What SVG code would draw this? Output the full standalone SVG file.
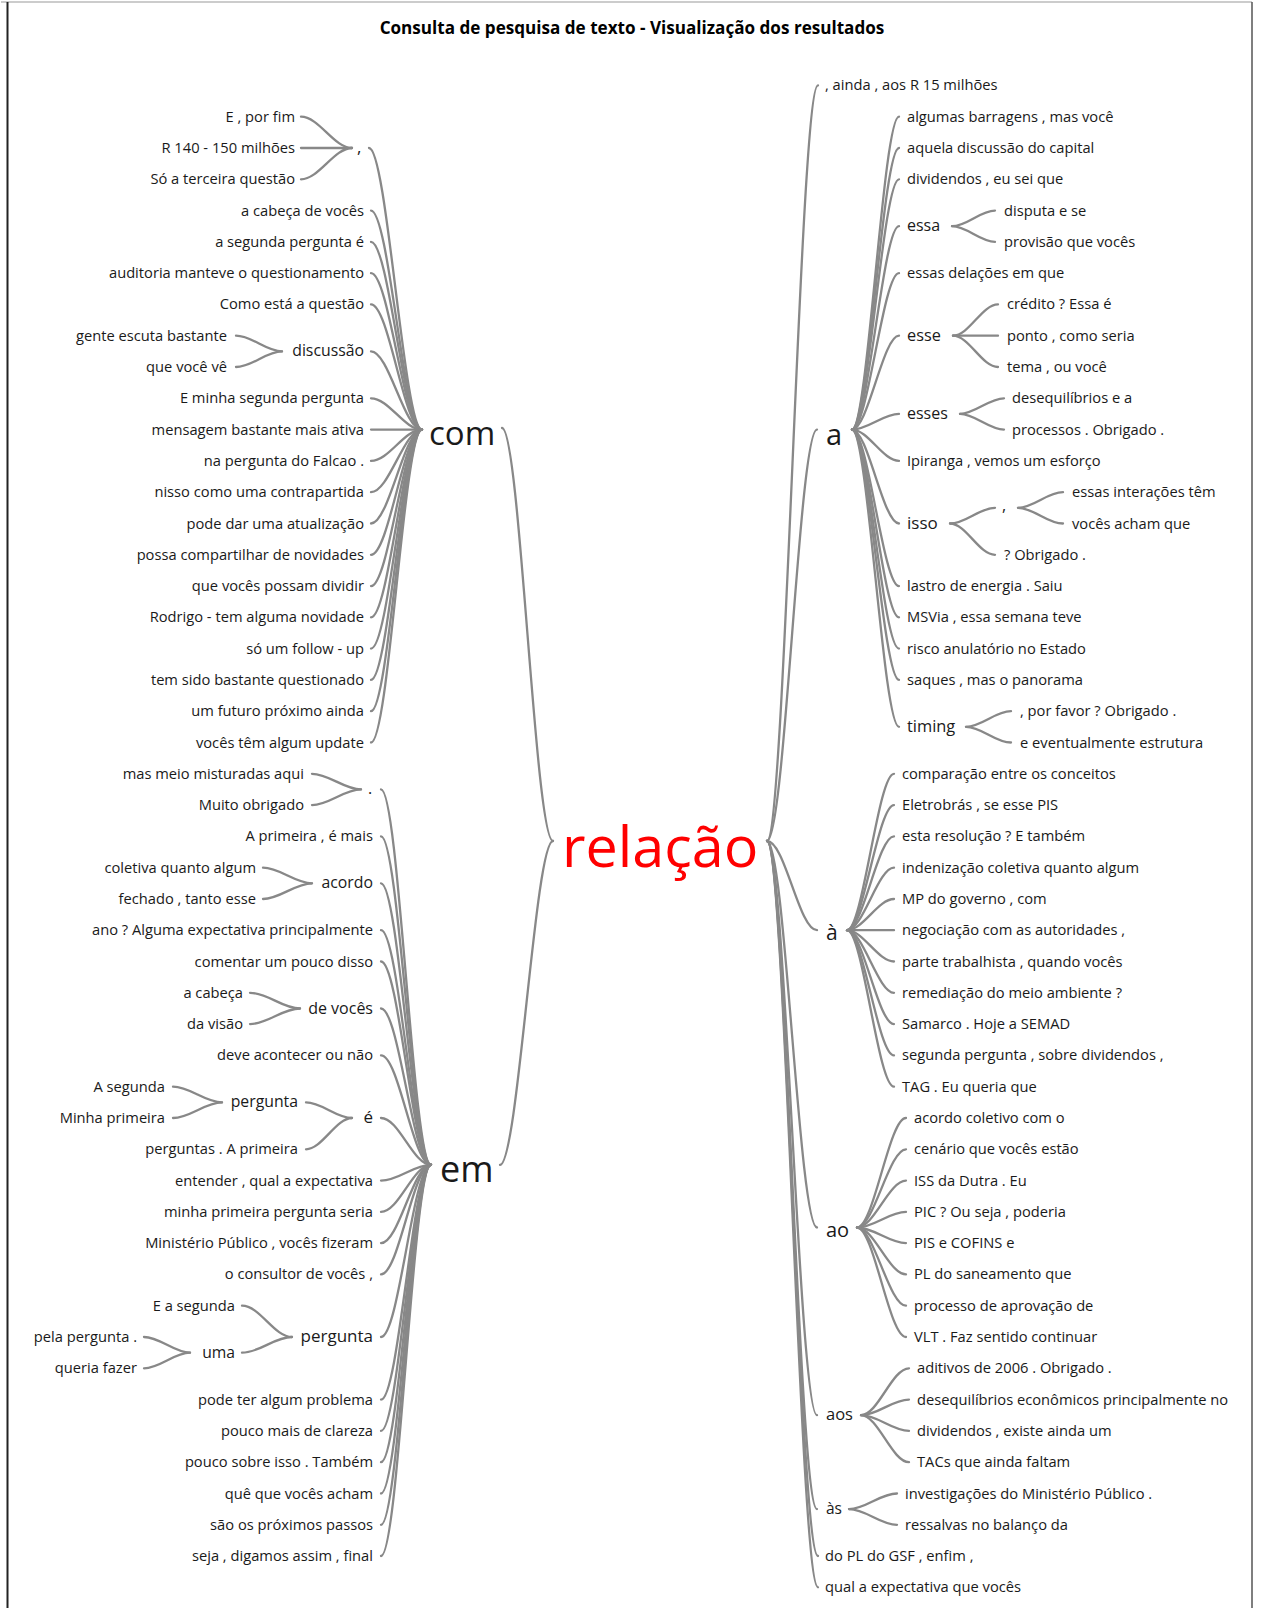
<svg xmlns="http://www.w3.org/2000/svg" width="1263" height="1608" viewBox="0 0 1263 1608">
<style>
  text { font-family: "Open Sans", "Noto Sans", sans-serif; fill: #1a1a1a; }
  .lf { font-size: 14.7px; }
  .e { text-anchor: end; }
  .title { font-size: 17.1px; font-weight: bold; text-anchor: middle; fill: #000; }
  .root { font-size: 57.5px; fill: #ff0000; }
  #connectors path { fill: none; stroke: #888888; stroke-width: 2.3; stroke-linecap: round; }
</style>
<rect x="0" y="0" width="1263" height="1608" fill="#ffffff"/>
<!-- frame -->
<line x1="1" y1="2" x2="1252" y2="2" stroke="#9a9a9a" stroke-width="1.2"/>
<line x1="7.5" y1="2" x2="7.5" y2="1608" stroke="#222" stroke-width="2"/>
<line x1="1252" y1="2" x2="1252" y2="1608" stroke="#555" stroke-width="1.5"/>
<text class="title" x="632" y="34">Consulta de pesquisa de texto - Visualização dos resultados</text>

<g id="connectors">
  <!-- root to com / em -->
  <path d="M502 428 C520 428 535 841 553 841"/>
  <path d="M500 1164.9 C518 1164.9 535 841 553 841"/>
  <!-- com -->
  <path d="M369 148 C387 148 404 429.6 422 429.6"/>
  <path d="M371 210.6 C389 210.6 404 429.6 422 429.6"/>
  <path d="M371 241.9 C389 241.9 404 429.6 422 429.6"/>
  <path d="M371 273.2 C389 273.2 404 429.6 422 429.6"/>
  <path d="M371 304.4 C389 304.4 404 429.6 422 429.6"/>
  <path d="M371 351.4 C389 351.4 404 429.6 422 429.6"/>
  <path d="M371 398.3 C389 398.3 404 429.6 422 429.6"/>
  <path d="M371 429.6 C389 429.6 404 429.6 422 429.6"/>
  <path d="M371 460.9 C389 460.9 404 429.6 422 429.6"/>
  <path d="M371 492.2 C389 492.2 404 429.6 422 429.6"/>
  <path d="M371 523.5 C389 523.5 404 429.6 422 429.6"/>
  <path d="M371 554.8 C389 554.8 404 429.6 422 429.6"/>
  <path d="M371 586.1 C389 586.1 404 429.6 422 429.6"/>
  <path d="M371 617.3 C389 617.3 404 429.6 422 429.6"/>
  <path d="M371 648.6 C389 648.6 404 429.6 422 429.6"/>
  <path d="M371 679.9 C389 679.9 404 429.6 422 429.6"/>
  <path d="M371 711.2 C389 711.2 404 429.6 422 429.6"/>
  <path d="M371 742.5 C389 742.5 404 429.6 422 429.6"/>
  <!-- com / , -->
  <path d="M301 116.7 C319 116.7 334 148 352 148"/>
  <path d="M301 148 C319 148 334 148 352 148"/>
  <path d="M301 179.3 C319 179.3 334 148 352 148"/>
  <!-- com / discussão -->
  <path d="M236 335.7 C252 335.7 266 351.4 282 351.4"/>
  <path d="M236 367 C252 367 266 351.4 282 351.4"/>
  <!-- em -->
  <path d="M381 789.4 C399 789.4 413 1164.9 431 1164.9"/>
  <path d="M381 836.4 C399 836.4 413 1164.9 431 1164.9"/>
  <path d="M381 883.3 C399 883.3 413 1164.9 431 1164.9"/>
  <path d="M381 930.2 C399 930.2 413 1164.9 431 1164.9"/>
  <path d="M381 961.5 C399 961.5 413 1164.9 431 1164.9"/>
  <path d="M381 1008.5 C399 1008.5 413 1164.9 431 1164.9"/>
  <path d="M381 1055.4 C399 1055.4 413 1164.9 431 1164.9"/>
  <path d="M381 1118 C399 1118 413 1164.9 431 1164.9"/>
  <path d="M381 1180.6 C399 1180.6 413 1164.9 431 1164.9"/>
  <path d="M381 1211.9 C399 1211.9 413 1164.9 431 1164.9"/>
  <path d="M381 1243.1 C399 1243.1 413 1164.9 431 1164.9"/>
  <path d="M381 1274.4 C399 1274.4 413 1164.9 431 1164.9"/>
  <path d="M381 1337 C399 1337 413 1164.9 431 1164.9"/>
  <path d="M381 1399.6 C399 1399.6 413 1164.9 431 1164.9"/>
  <path d="M381 1430.9 C399 1430.9 413 1164.9 431 1164.9"/>
  <path d="M381 1462.2 C399 1462.2 413 1164.9 431 1164.9"/>
  <path d="M381 1493.5 C399 1493.5 413 1164.9 431 1164.9"/>
  <path d="M381 1524.8 C399 1524.8 413 1164.9 431 1164.9"/>
  <path d="M381 1556 C399 1556 413 1164.9 431 1164.9"/>
  <!-- em / . -->
  <path d="M312 773.8 C329 773.8 344 789.4 361 789.4"/>
  <path d="M312 805.1 C329 805.1 344 789.4 361 789.4"/>
  <!-- em / acordo -->
  <path d="M263 867.7 C280 867.7 295 883.3 312 883.3"/>
  <path d="M263 899 C280 899 295 883.3 312 883.3"/>
  <!-- em / de vocês -->
  <path d="M250 992.8 C268 992.8 282 1008.5 300 1008.5"/>
  <path d="M250 1024.1 C268 1024.1 282 1008.5 300 1008.5"/>
  <!-- em / é -->
  <path d="M306 1102.4 C322 1102.4 336 1118 352 1118"/>
  <path d="M306 1149.3 C322 1149.3 336 1118 352 1118"/>
  <path d="M173 1086.7 C190 1086.7 205 1102.4 222 1102.4"/>
  <path d="M173 1118 C190 1118 205 1102.4 222 1102.4"/>
  <!-- em / pergunta -->
  <path d="M242 1305.7 C260 1305.7 274 1337 292 1337"/>
  <path d="M242 1352.7 C260 1352.7 274 1337 292 1337"/>
  <path d="M144 1337 C160 1337 174 1352.7 190 1352.7"/>
  <path d="M144 1368.3 C160 1368.3 174 1352.7 190 1352.7"/>
  <!-- root right -->
  <path d="M767 841 C785 841 800 85.4 818 85.4"/>
  <path d="M767 841 C785 841 799 429.6 817 429.6"/>
  <path d="M767 841 C785 841 799 930.2 817 930.2"/>
  <path d="M767 841 C785 841 799 1227.5 817 1227.5"/>
  <path d="M767 841 C785 841 799 1415.2 817 1415.2"/>
  <path d="M767 841 C785 841 799 1509.1 817 1509.1"/>
  <path d="M767 841 C785 841 800 1556 818 1556"/>
  <path d="M767 841 C785 841 800 1587.3 818 1587.3"/>
  <!-- a -->
  <path d="M852 429.6 C868 429.6 883 116.7 899 116.7"/>
  <path d="M852 429.6 C868 429.6 883 148 899 148"/>
  <path d="M852 429.6 C868 429.6 883 179.3 899 179.3"/>
  <path d="M852 429.6 C868 429.6 883 226.2 899 226.2"/>
  <path d="M852 429.6 C868 429.6 883 273.2 899 273.2"/>
  <path d="M852 429.6 C868 429.6 883 335.7 899 335.7"/>
  <path d="M852 429.6 C868 429.6 883 413.9 899 413.9"/>
  <path d="M852 429.6 C868 429.6 883 460.9 899 460.9"/>
  <path d="M852 429.6 C868 429.6 883 523.5 899 523.5"/>
  <path d="M852 429.6 C868 429.6 883 586.1 899 586.1"/>
  <path d="M852 429.6 C868 429.6 883 617.3 899 617.3"/>
  <path d="M852 429.6 C868 429.6 883 648.6 899 648.6"/>
  <path d="M852 429.6 C868 429.6 883 679.9 899 679.9"/>
  <path d="M852 429.6 C868 429.6 883 726.8 899 726.8"/>
  <!-- a / essa -->
  <path d="M952 226.2 C967 226.2 980 210.6 995 210.6"/>
  <path d="M952 226.2 C967 226.2 980 241.9 995 241.9"/>
  <!-- a / esse -->
  <path d="M953 335.7 C969 335.7 982 304.4 998 304.4"/>
  <path d="M953 335.7 C969 335.7 982 335.7 998 335.7"/>
  <path d="M953 335.7 C969 335.7 982 367 998 367"/>
  <!-- a / esses -->
  <path d="M960 413.9 C975 413.9 989 398.3 1004 398.3"/>
  <path d="M960 413.9 C975 413.9 989 429.6 1004 429.6"/>
  <!-- a / isso -->
  <path d="M950 523.5 C966 523.5 979 507.8 995 507.8"/>
  <path d="M950 523.5 C966 523.5 979 554.8 995 554.8"/>
  <path d="M1018 507.8 C1034 507.8 1047 492.2 1063 492.2"/>
  <path d="M1018 507.8 C1034 507.8 1047 523.5 1063 523.5"/>
  <!-- a / timing -->
  <path d="M966 726.8 C982 726.8 995 711.2 1011 711.2"/>
  <path d="M966 726.8 C982 726.8 995 742.5 1011 742.5"/>
  <!-- à -->
  <path d="M847 930.2 C863 930.2 878 773.8 894 773.8"/>
  <path d="M847 930.2 C863 930.2 878 805.1 894 805.1"/>
  <path d="M847 930.2 C863 930.2 878 836.4 894 836.4"/>
  <path d="M847 930.2 C863 930.2 878 867.7 894 867.7"/>
  <path d="M847 930.2 C863 930.2 878 899 894 899"/>
  <path d="M847 930.2 C863 930.2 878 930.2 894 930.2"/>
  <path d="M847 930.2 C863 930.2 878 961.5 894 961.5"/>
  <path d="M847 930.2 C863 930.2 878 992.8 894 992.8"/>
  <path d="M847 930.2 C863 930.2 878 1024.1 894 1024.1"/>
  <path d="M847 930.2 C863 930.2 878 1055.4 894 1055.4"/>
  <path d="M847 930.2 C863 930.2 878 1086.7 894 1086.7"/>
  <!-- ao -->
  <path d="M857 1227.5 C874 1227.5 889 1118 906 1118"/>
  <path d="M857 1227.5 C874 1227.5 889 1149.3 906 1149.3"/>
  <path d="M857 1227.5 C874 1227.5 889 1180.6 906 1180.6"/>
  <path d="M857 1227.5 C874 1227.5 889 1211.9 906 1211.9"/>
  <path d="M857 1227.5 C874 1227.5 889 1243.1 906 1243.1"/>
  <path d="M857 1227.5 C874 1227.5 889 1274.4 906 1274.4"/>
  <path d="M857 1227.5 C874 1227.5 889 1305.7 906 1305.7"/>
  <path d="M857 1227.5 C874 1227.5 889 1337 906 1337"/>
  <!-- aos -->
  <path d="M861 1415.2 C878 1415.2 892 1368.3 909 1368.3"/>
  <path d="M861 1415.2 C878 1415.2 892 1399.6 909 1399.6"/>
  <path d="M861 1415.2 C878 1415.2 892 1430.9 909 1430.9"/>
  <path d="M861 1415.2 C878 1415.2 892 1462.2 909 1462.2"/>
  <!-- às -->
  <path d="M849 1509.1 C866 1509.1 880 1493.5 897 1493.5"/>
  <path d="M849 1509.1 C866 1509.1 880 1524.8 897 1524.8"/>
</g>

<g id="n-root"><text class="root" x="562" y="866.7">relação</text></g>

<!-- left branch: com -->
<g id="n-com"><text x="429" y="445" style="font-size:33px">com</text></g>
<g id="n-com-comma"><text x="357" y="153" style="font-size:17px">,</text></g>
<g id="l-0"><text class="lf e" x="295" y="121.7">E , por fim</text></g>
<g id="l-1"><text class="lf e" x="295" y="153">R 140 - 150 milhões</text></g>
<g id="l-2"><text class="lf e" x="295" y="184.3">Só a terceira questão</text></g>
<g id="l-3"><text class="lf e" x="364" y="215.6">a cabeça de vocês</text></g>
<g id="l-4"><text class="lf e" x="364" y="246.9">a segunda pergunta é</text></g>
<g id="l-5"><text class="lf e" x="364" y="278.2">auditoria manteve o questionamento</text></g>
<g id="l-6"><text class="lf e" x="364" y="309.4">Como está a questão</text></g>
<g id="n-discussao"><text class="e" x="364" y="356.4" style="font-size:15.8px">discussão</text></g>
<g id="l-7"><text class="lf e" x="227" y="340.7">gente escuta bastante</text></g>
<g id="l-8"><text class="lf e" x="227" y="372">que você vê</text></g>
<g id="l-9"><text class="lf e" x="364" y="403.3">E minha segunda pergunta</text></g>
<g id="l-10"><text class="lf e" x="364" y="434.6">mensagem bastante mais ativa</text></g>
<g id="l-11"><text class="lf e" x="364" y="465.9">na pergunta do Falcao .</text></g>
<g id="l-12"><text class="lf e" x="364" y="497.2">nisso como uma contrapartida</text></g>
<g id="l-13"><text class="lf e" x="364" y="528.5">pode dar uma atualização</text></g>
<g id="l-14"><text class="lf e" x="364" y="559.8">possa compartilhar de novidades</text></g>
<g id="l-15"><text class="lf e" x="364" y="591.1">que vocês possam dividir</text></g>
<g id="l-16"><text class="lf e" x="364" y="622.3">Rodrigo - tem alguma novidade</text></g>
<g id="l-17"><text class="lf e" x="364" y="653.6">só um follow - up</text></g>
<g id="l-18"><text class="lf e" x="364" y="684.9">tem sido bastante questionado</text></g>
<g id="l-19"><text class="lf e" x="364" y="716.2">um futuro próximo ainda</text></g>
<g id="l-20"><text class="lf e" x="364" y="747.5">vocês têm algum update</text></g>

<!-- left branch: em -->
<g id="n-em"><text x="440" y="1182" style="font-size:36px">em</text></g>
<g id="n-em-dot"><text x="368" y="794.4" style="font-size:16px">.</text></g>
<g id="l-21"><text class="lf e" x="304" y="778.8">mas meio misturadas aqui</text></g>
<g id="l-22"><text class="lf e" x="304" y="810.1">Muito obrigado</text></g>
<g id="l-23"><text class="lf e" x="373" y="841.4">A primeira , é mais</text></g>
<g id="n-acordo"><text class="e" x="373" y="888.3" style="font-size:15.8px">acordo</text></g>
<g id="l-24"><text class="lf e" x="256" y="872.7">coletiva quanto algum</text></g>
<g id="l-25"><text class="lf e" x="256" y="904">fechado , tanto esse</text></g>
<g id="l-26"><text class="lf e" x="373" y="935.2">ano ? Alguma expectativa principalmente</text></g>
<g id="l-27"><text class="lf e" x="373" y="966.5">comentar um pouco disso</text></g>
<g id="n-devoces"><text class="e" x="373" y="1013.5" style="font-size:16px">de vocês</text></g>
<g id="l-28"><text class="lf e" x="243" y="997.8">a cabeça</text></g>
<g id="l-29"><text class="lf e" x="243" y="1029.1">da visão</text></g>
<g id="l-30"><text class="lf e" x="373" y="1060.4">deve acontecer ou não</text></g>
<g id="n-e"><text class="e" x="373" y="1123" style="font-size:17px">é</text></g>
<g id="n-e-pergunta"><text class="e" x="298" y="1107.4" style="font-size:15.8px">pergunta</text></g>
<g id="l-31"><text class="lf e" x="165" y="1091.7">A segunda</text></g>
<g id="l-32"><text class="lf e" x="165" y="1123">Minha primeira</text></g>
<g id="l-33"><text class="lf e" x="298" y="1154.3">perguntas . A primeira</text></g>
<g id="l-34"><text class="lf e" x="373" y="1185.6">entender , qual a expectativa</text></g>
<g id="l-35"><text class="lf e" x="373" y="1216.9">minha primeira pergunta seria</text></g>
<g id="l-36"><text class="lf e" x="373" y="1248.1">Ministério Público , vocês fizeram</text></g>
<g id="l-37"><text class="lf e" x="373" y="1279.4">o consultor de vocês ,</text></g>
<g id="n-pergunta"><text class="e" x="373" y="1342" style="font-size:17px">pergunta</text></g>
<g id="l-38"><text class="lf e" x="235" y="1310.7">E a segunda</text></g>
<g id="n-uma"><text class="e" x="235" y="1357.7" style="font-size:15.7px">uma</text></g>
<g id="l-39"><text class="lf e" x="137" y="1342">pela pergunta .</text></g>
<g id="l-40"><text class="lf e" x="137" y="1373.3">queria fazer</text></g>
<g id="l-41"><text class="lf e" x="373" y="1404.6">pode ter algum problema</text></g>
<g id="l-42"><text class="lf e" x="373" y="1435.9">pouco mais de clareza</text></g>
<g id="l-43"><text class="lf e" x="373" y="1467.2">pouco sobre isso . Também</text></g>
<g id="l-44"><text class="lf e" x="373" y="1498.5">quê que vocês acham</text></g>
<g id="l-45"><text class="lf e" x="373" y="1529.8">são os próximos passos</text></g>
<g id="l-46"><text class="lf e" x="373" y="1561">seja , digamos assim , final</text></g>

<!-- right side -->
<g id="r--1"><text class="lf" x="825" y="90.4">, ainda , aos R 15 milhões</text></g>
<g id="n-a"><text x="826" y="445" style="font-size:29px">a</text></g>
<g id="r-0"><text class="lf" x="907" y="121.7">algumas barragens , mas você</text></g>
<g id="r-1"><text class="lf" x="907" y="153">aquela discussão do capital</text></g>
<g id="r-2"><text class="lf" x="907" y="184.3">dividendos , eu sei que</text></g>
<g id="n-essa"><text x="907" y="231.2" style="font-size:16px">essa</text></g>
<g id="r-3"><text class="lf" x="1004" y="215.6">disputa e se</text></g>
<g id="r-4"><text class="lf" x="1004" y="246.9">provisão que vocês</text></g>
<g id="r-5"><text class="lf" x="907" y="278.2">essas delações em que</text></g>
<g id="n-esse"><text x="907" y="340.7" style="font-size:16.3px">esse</text></g>
<g id="r-6"><text class="lf" x="1007" y="309.4">crédito ? Essa é</text></g>
<g id="r-7"><text class="lf" x="1007" y="340.7">ponto , como seria</text></g>
<g id="r-8"><text class="lf" x="1007" y="372">tema , ou você</text></g>
<g id="n-esses"><text x="907" y="419" style="font-size:16px">esses</text></g>
<g id="r-9"><text class="lf" x="1012" y="403.3">desequilíbrios e a</text></g>
<g id="r-10"><text class="lf" x="1012" y="434.6">processos . Obrigado .</text></g>
<g id="r-11"><text class="lf" x="907" y="465.9">Ipiranga , vemos um esforço</text></g>
<g id="n-isso"><text x="907" y="528.5" style="font-size:17px">isso</text></g>
<g id="n-isso-comma"><text x="1002" y="511" style="font-size:16px">,</text></g>
<g id="r-12"><text class="lf" x="1072" y="497.2">essas interações têm</text></g>
<g id="r-13"><text class="lf" x="1072" y="528.5">vocês acham que</text></g>
<g id="r-14"><text class="lf" x="1004" y="559.8">? Obrigado .</text></g>
<g id="r-15"><text class="lf" x="907" y="591.1">lastro de energia . Saiu</text></g>
<g id="r-16"><text class="lf" x="907" y="622.3">MSVia , essa semana teve</text></g>
<g id="r-17"><text class="lf" x="907" y="653.6">risco anulatório no Estado</text></g>
<g id="r-18"><text class="lf" x="907" y="684.9">saques , mas o panorama</text></g>
<g id="n-timing"><text x="907" y="731.9" style="font-size:16.4px">timing</text></g>
<g id="r-19"><text class="lf" x="1020" y="716.2">, por favor ? Obrigado .</text></g>
<g id="r-20"><text class="lf" x="1020" y="747.5">e eventualmente estrutura</text></g>

<g id="n-a-grave"><text x="826" y="940" style="font-size:21px">à</text></g>
<g id="r-21"><text class="lf" x="902" y="778.8">comparação entre os conceitos</text></g>
<g id="r-22"><text class="lf" x="902" y="810.1">Eletrobrás , se esse PIS</text></g>
<g id="r-23"><text class="lf" x="902" y="841.4">esta resolução ? E também</text></g>
<g id="r-24"><text class="lf" x="902" y="872.7">indenização coletiva quanto algum</text></g>
<g id="r-25"><text class="lf" x="902" y="904">MP do governo , com</text></g>
<g id="r-26"><text class="lf" x="902" y="935.2">negociação com as autoridades ,</text></g>
<g id="r-27"><text class="lf" x="902" y="966.5">parte trabalhista , quando vocês</text></g>
<g id="r-28"><text class="lf" x="902" y="997.8">remediação do meio ambiente ?</text></g>
<g id="r-29"><text class="lf" x="902" y="1029.1">Samarco . Hoje a SEMAD</text></g>
<g id="r-30"><text class="lf" x="902" y="1060.4">segunda pergunta , sobre dividendos ,</text></g>
<g id="r-31"><text class="lf" x="902" y="1091.7">TAG . Eu queria que</text></g>

<g id="n-ao"><text x="826" y="1237" style="font-size:20px">ao</text></g>
<g id="r-32"><text class="lf" x="914" y="1123">acordo coletivo com o</text></g>
<g id="r-33"><text class="lf" x="914" y="1154.3">cenário que vocês estão</text></g>
<g id="r-34"><text class="lf" x="914" y="1185.6">ISS da Dutra . Eu</text></g>
<g id="r-35"><text class="lf" x="914" y="1216.9">PIC ? Ou seja , poderia</text></g>
<g id="r-36"><text class="lf" x="914" y="1248.1">PIS e COFINS e</text></g>
<g id="r-37"><text class="lf" x="914" y="1279.4">PL do saneamento que</text></g>
<g id="r-38"><text class="lf" x="914" y="1310.7">processo de aprovação de</text></g>
<g id="r-39"><text class="lf" x="914" y="1342">VLT . Faz sentido continuar</text></g>

<g id="n-aos"><text x="826" y="1420" style="font-size:16.5px">aos</text></g>
<g id="r-40"><text class="lf" x="917" y="1373.3">aditivos de 2006 . Obrigado .</text></g>
<g id="r-41"><text class="lf" x="917" y="1404.6">desequilíbrios econômicos principalmente no</text></g>
<g id="r-42"><text class="lf" x="917" y="1435.9">dividendos , existe ainda um</text></g>
<g id="r-43"><text class="lf" x="917" y="1467.2">TACs que ainda faltam</text></g>

<g id="n-as"><text x="826" y="1514" style="font-size:15.5px">às</text></g>
<g id="r-44"><text class="lf" x="905" y="1498.5">investigações do Ministério Público .</text></g>
<g id="r-45"><text class="lf" x="905" y="1529.8">ressalvas no balanço da</text></g>

<g id="r-46"><text class="lf" x="825" y="1561">do PL do GSF , enfim ,</text></g>
<g id="r-47"><text class="lf" x="825" y="1592.3">qual a expectativa que vocês</text></g>
</svg>
